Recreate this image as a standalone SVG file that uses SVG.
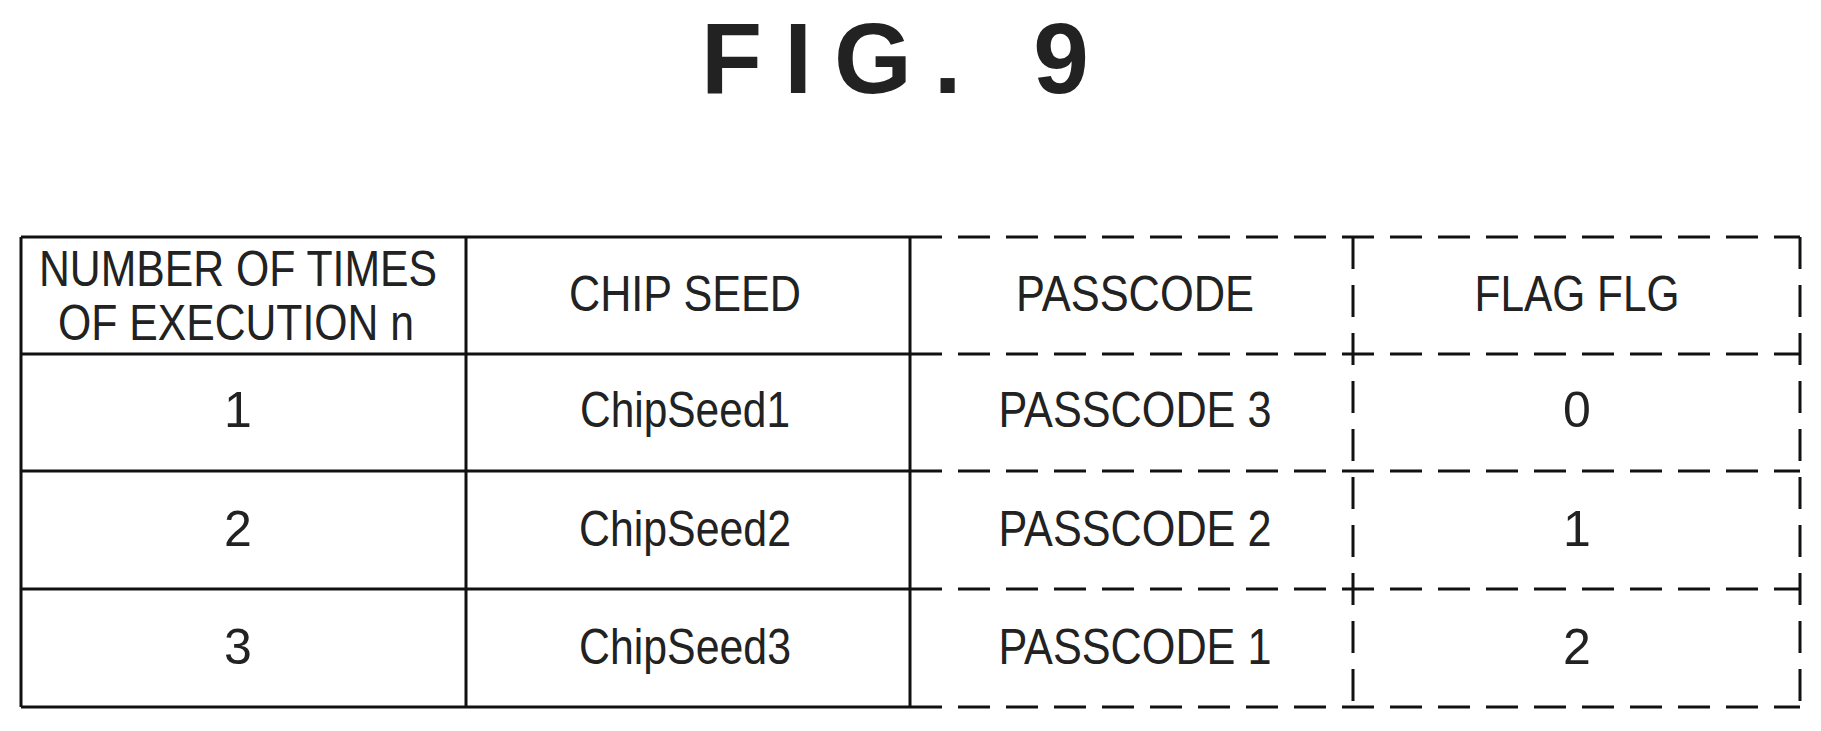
<svg xmlns="http://www.w3.org/2000/svg" width="1821" height="731" viewBox="0 0 1821 731">
<style>
text{font-family:"Liberation Sans",Arial,sans-serif;fill:#222;text-anchor:middle}
.c{font-size:50px}
.s{stroke:#111;stroke-width:3;fill:none}
.d{stroke:#111;stroke-width:3;fill:none;stroke-dasharray:32 16}
</style>
<rect width="1821" height="731" fill="#fff"/>
<text x="906" y="93" style="font-size:100px;font-weight:bold" letter-spacing="22">FIG. 9</text>
<g id="connectors">
<path class="s" d="M21 237H910M21 354H910M21 471H910M21 589H910M21 707H910M21 237V707M466 237V707M910 237V707"/>
<path class="d" d="M910 237H1800M910 354H1800M910 471H1800M910 589H1800M910 707H1800M1353 237V707M1800 237V707"/>
</g>
<g id="header">
<text class="c" x="238" y="286" textLength="398" lengthAdjust="spacingAndGlyphs">NUMBER OF TIMES</text>
<text class="c" x="236" y="340" textLength="356" lengthAdjust="spacingAndGlyphs">OF EXECUTION n</text>
<text class="c" x="685" y="311" textLength="232" lengthAdjust="spacingAndGlyphs">CHIP SEED</text>
<text class="c" x="1135" y="311" textLength="238" lengthAdjust="spacingAndGlyphs">PASSCODE</text>
<text class="c" x="1577" y="311" textLength="205" lengthAdjust="spacingAndGlyphs">FLAG FLG</text>
</g>
<g id="row1">
<text class="c" x="238" y="427">1</text>
<text class="c" x="685" y="427" textLength="210" lengthAdjust="spacingAndGlyphs">ChipSeed1</text>
<text class="c" x="1135" y="427" textLength="273" lengthAdjust="spacingAndGlyphs">PASSCODE 3</text>
<text class="c" x="1577" y="427">0</text>
</g>
<g id="row2">
<text class="c" x="238" y="546">2</text>
<text class="c" x="685" y="546" textLength="212" lengthAdjust="spacingAndGlyphs">ChipSeed2</text>
<text class="c" x="1135" y="546" textLength="273" lengthAdjust="spacingAndGlyphs">PASSCODE 2</text>
<text class="c" x="1577" y="546">1</text>
</g>
<g id="row3">
<text class="c" x="238" y="664">3</text>
<text class="c" x="685" y="664" textLength="212" lengthAdjust="spacingAndGlyphs">ChipSeed3</text>
<text class="c" x="1135" y="664" textLength="273" lengthAdjust="spacingAndGlyphs">PASSCODE 1</text>
<text class="c" x="1577" y="664">2</text>
</g>
</svg>
